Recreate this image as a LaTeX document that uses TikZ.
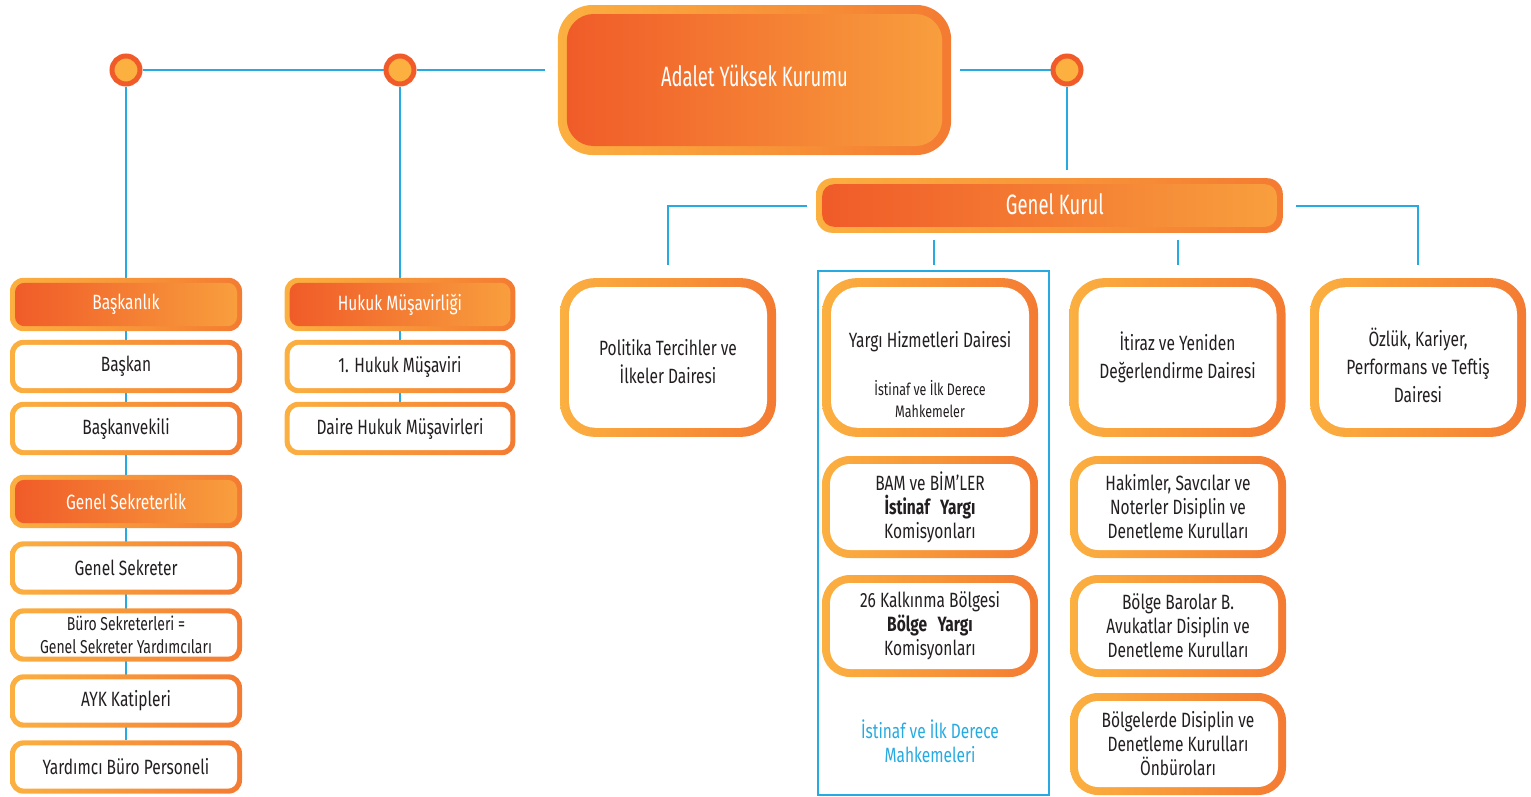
\documentclass[tikz,border=0pt]{standalone}
\usepackage{fontspec}
\setmainfont[FakeStretch=0.75]{Fira Sans}
\newfontfamily\titlefont[FakeStretch=0.66]{Fira Sans}
\usetikzlibrary{positioning,backgrounds}

\definecolor{ykblue}{RGB}{39,170,225}
\definecolor{ykred}{RGB}{241,90,41}
\definecolor{ykgold}{RGB}{251,176,64}
\definecolor{ringL}{RGB}{251,176,64}
\definecolor{ringR}{RGB}{244,123,50}
\definecolor{hdL}{RGB}{240,90,40}
\definecolor{hdR}{RGB}{248,160,62}
\definecolor{ink}{RGB}{35,31,32}

\newcommand{\smtxt}{\fontsize{12.5}{16.5}\selectfont}

\tikzset{
  ykline/.style={draw=ykblue, line width=1.5pt},
  dot/.style={circle, draw=ykred, fill=ykgold, line width=3.75pt, minimum size=21pt, inner sep=0pt},
  % white inside of a ring box: #1 ring width, #2 inner radius
  inwhite/.style 2 args={path picture={\fill[white, rounded corners=#2]
      ([shift={(#1,#1)}]path picture bounding box.south west) rectangle
      ([shift={(-#1,-#1)}]path picture bounding box.north east);}},
  inshade/.style 2 args={path picture={\shade[left color=hdL, right color=hdR, rounded corners=#2]
      ([shift={(#1,#1)}]path picture bounding box.south west) rectangle
      ([shift={(-#1,-#1)}]path picture bounding box.north east);}},
  card/.style={rounded corners=10pt, left color=ringL, right color=ringR,
      minimum width=174pt, minimum height=40pt, inner sep=1pt, align=center,
      text=ink, font=\fontsize{15.5}{18}\selectfont, inwhite={3.75pt}{7pt}},
  headcard/.style={card, text=white, inshade={3.75pt}{7pt}},
  bigcard/.style={card, minimum width=162pt, minimum height=119pt, rounded corners=26pt,
      inwhite={6.75pt}{20pt}, font=\fontsize{15.5}{21}\selectfont},
  midcard/.style={card, minimum width=162pt, minimum height=76.5pt, rounded corners=21pt,
      inwhite={6pt}{15pt}},
  crown/.style={headcard, minimum width=295pt, minimum height=112.5pt, rounded corners=26pt,
      inshade={6.75pt}{20pt}, font=\titlefont\fontsize{21}{24}\selectfont},
}

\begin{document}
\begin{tikzpicture}[x=0.75pt,y=-0.75pt]
\useasboundingbox (0,0) rectangle (1531,796);

% top
\node[crown] (ayk) at (754.5,80) {\raisebox{6pt}{Adalet Yüksek Kurumu}};
\node[dot] (c1) at (126,70) {};
\node[dot] (c2) at (400,70) {};
\node[dot] (c3) at (1067,70) {};
\coordinate (aykL) at (545,70);
\coordinate (aykR) at (960,70);

% Baskanlik column
\node[headcard] (bsk) at (126,304.5) {Başkanlık};
\node[card] (bskn) at (126,366.5) {Başkan};
\node[card] (bvek) at (126,428.5) {Başkanvekili};
\node[headcard] (gsek) at (126,501.5) {Genel Sekreterlik};
\node[card] (gsekr) at (126,568) {Genel Sekreter};
\node[card, font=\fontsize{14}{17}\selectfont] (buro) at (126,635) {Büro Sekreterleri =\\Genel Sekreter Yardımcıları};
\node[card] (katip) at (126,701) {AYK Katipleri};
\node[card] (yard) at (126,767) {Yardımcı Büro Personeli};

% Hukuk column
\node[headcard, minimum width=173pt] (hkm) at (400,304.5) {Hukuk Müşavirliği};
\node[card, minimum width=173pt] (hkm1) at (400,366.5) {1. Hukuk Müşaviri};
\node[card, minimum width=173pt] (dhm) at (400,428.5) {Daire Hukuk Müşavirleri};

% Genel Kurul
\node[headcard, minimum width=350pt, minimum height=41pt, rounded corners=12pt,
      inshade={4.5pt}{9pt}, font=\titlefont\fontsize{21}{24}\selectfont] (gk) at (1049.5,205.5) {\hspace*{8pt}\raisebox{3pt}{Genel Kurul}};
\coordinate (gkin) at (1067,170);

% daireler
\node[bigcard] (pol) at (668,357.5) {\rule{0pt}{18.5pt}Politika Tercihler ve\\İlkeler Dairesi};
\node[bigcard] (yar) at (930,357.5) {\rule{0pt}{38pt}Yargı Hizmetleri Dairesi\\[15pt]\smtxt İstinaf ve İlk Derece\\[-4.5pt]\smtxt Mahkemeler};
\node[bigcard] (iti) at (1177.5,357.5) {İtiraz ve Yeniden\\Değerlendirme Dairesi};
\node[bigcard] (ozl) at (1418,357.5) {\rule{0pt}{26pt}Özlük, Kariyer,\\Performans ve Teftiş\\Dairesi};

% istinaf frame
\node[draw=ykblue, line width=1.5pt, minimum width=173pt, minimum height=393pt, inner sep=0pt] (ist) at (933.5,532.5) {};
\node[midcard] (bam) at (930,507) {BAM ve BİM'LER\\\textbf{İstinaf\enspace Yargı}\\Komisyonları};
\node[midcard] (kalk) at (930,626) {26 Kalkınma Bölgesi\\\textbf{Bölge\enspace Yargı}\\Komisyonları};
\node[text=ykblue, align=center, font=\fontsize{15.5}{18}\selectfont] (istt) at (930,741) {İstinaf ve İlk Derece\\Mahkemeleri};

% disiplin
\node[midcard] (hak) at (1178,507) {Hakimler, Savcılar ve\\Noterler Disiplin ve\\Denetleme Kurulları};
\node[midcard] (baro) at (1178,626) {Bölge Barolar B.\\Avukatlar Disiplin ve\\Denetleme Kurulları};
\node[midcard] (onb) at (1178,744) {Bölgelerde Disiplin ve\\Denetleme Kurulları\\Önbüroları};

\begin{scope}[on background layer]
\draw[ykline] (c1) -- (c2) -- (aykL);
\draw[ykline] (aykR) -- (c3) -- (gkin);
\draw[ykline] (c1) -- (yard);
\draw[ykline] (c2) -- (dhm);
\draw[ykline] ([xshift=-6.75pt]gk.west) -| ([yshift=9.75pt]pol.north);
\draw[ykline] ([xshift=9.75pt]gk.east) -| ([yshift=9.75pt]ozl.north);
\draw[ykline] ([yshift=-5.25pt]gk.south -| ist.north) -- ([yshift=3.75pt]ist.north);
\draw[ykline] ([yshift=-5.25pt]gk.south -| iti.north) -- ([yshift=9.75pt]iti.north);
\end{scope}
\end{tikzpicture}
\end{document}
